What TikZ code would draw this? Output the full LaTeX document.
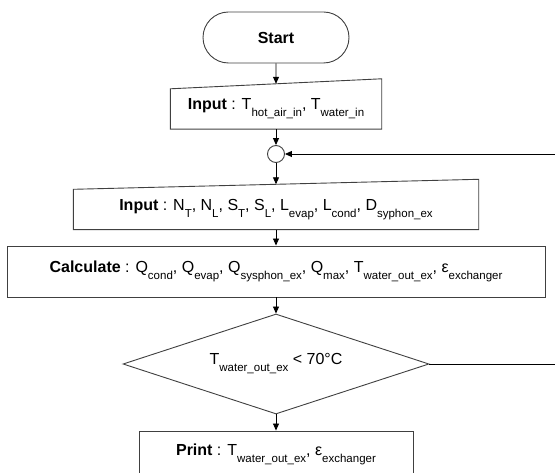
\documentclass[tikz,border=0pt]{standalone}
\usepackage{fontspec}
\setmainfont{Liberation Sans}
\usepackage{tikz}
\usetikzlibrary{shapes,shapes.misc,shapes.geometric,arrows,positioning,calc,arrows.meta}

% subscript as set in the chart
\newcommand{\sbs}[1]{\raisebox{-7pt}{\fontsize{11.5}{12}\selectfont #1}}

\begin{document}
\begin{tikzpicture}[x=1pt,y=-1pt,
    txt/.style={font=\fontsize{16}{19}\selectfont, inner sep=0pt},
    box/.style={draw=black!75, line width=0.9pt},
    arr/.style={-{Triangle[length=7pt,width=6pt]}, line width=0.9pt},
    line/.style={line width=0.9pt}]
    \clip (0,0) rectangle (555,473);

    % Blocks
    \node[txt, box, rounded rectangle, minimum width=146pt, minimum height=51pt] (start) at (276,37.5) {\textbf{Start}};
    \node[txt, minimum width=211pt, minimum height=40pt] (in1) at (276,109)
        {\textbf{Input} : T\sbs{hot\_air\_in}, T\sbs{water\_in}};
    \node[box, circle, minimum size=17pt, inner sep=0pt] (conn) at (276,154) {};
    \node[txt, minimum width=405pt, minimum height=40pt] (in2) at (276,209.5)
        {\textbf{Input} : N\sbs{T}, N\sbs{L}, S\sbs{T}, S\sbs{L}, L\sbs{evap}, L\sbs{cond}, D\sbs{syphon\_ex}};
    \node[txt, box, minimum width=538pt, minimum height=51pt] (calc) at (276,271.5)
        {\textbf{Calculate} : Q\sbs{cond}, Q\sbs{evap}, Q\sbs{sysphon\_ex}, Q\sbs{max}, T\sbs{water\_out\_ex}, ε\sbs{exchanger}};
    \node[txt, box, diamond, aspect=3.06, minimum width=306pt, minimum height=100pt] (dec) at (276,364)
        {T\sbs{water\_out\_ex} < 70°C};
    \node[txt, box, minimum width=274pt, minimum height=46pt] (prt) at (276,454)
        {\textbf{Print} : T\sbs{water\_out\_ex}, ε\sbs{exchanger}};

    % manual input outlines
    \draw[box] (in1.north west) -- ([yshift=10pt]in1.north east) -- (in1.south east) -- (in1.south west) -- cycle;
    \draw[box] (in2.north west) -- ([yshift=10pt]in2.north east) -- (in2.south east) -- (in2.south west) -- cycle;
    \coordinate (in1top) at ([yshift=5pt]in1.north);
    \coordinate (in2top) at ([yshift=5pt]in2.north);

    % Flow
    \draw[arr] (start) -- (in1top);
    \draw[arr] (in1) -- (conn);
    \draw[arr] (conn) -- (in2top);
    \draw[arr] (in2) -- (calc);
    \draw[arr] (calc) -- (dec);
    \draw[arr] (dec) -- (prt);

    % Loop back
    \coordinate (loop) at (600,364);
    \draw[line] (dec.east) -- (loop);
    \draw[arr] (loop) |- (conn);
\end{tikzpicture}
\end{document}
